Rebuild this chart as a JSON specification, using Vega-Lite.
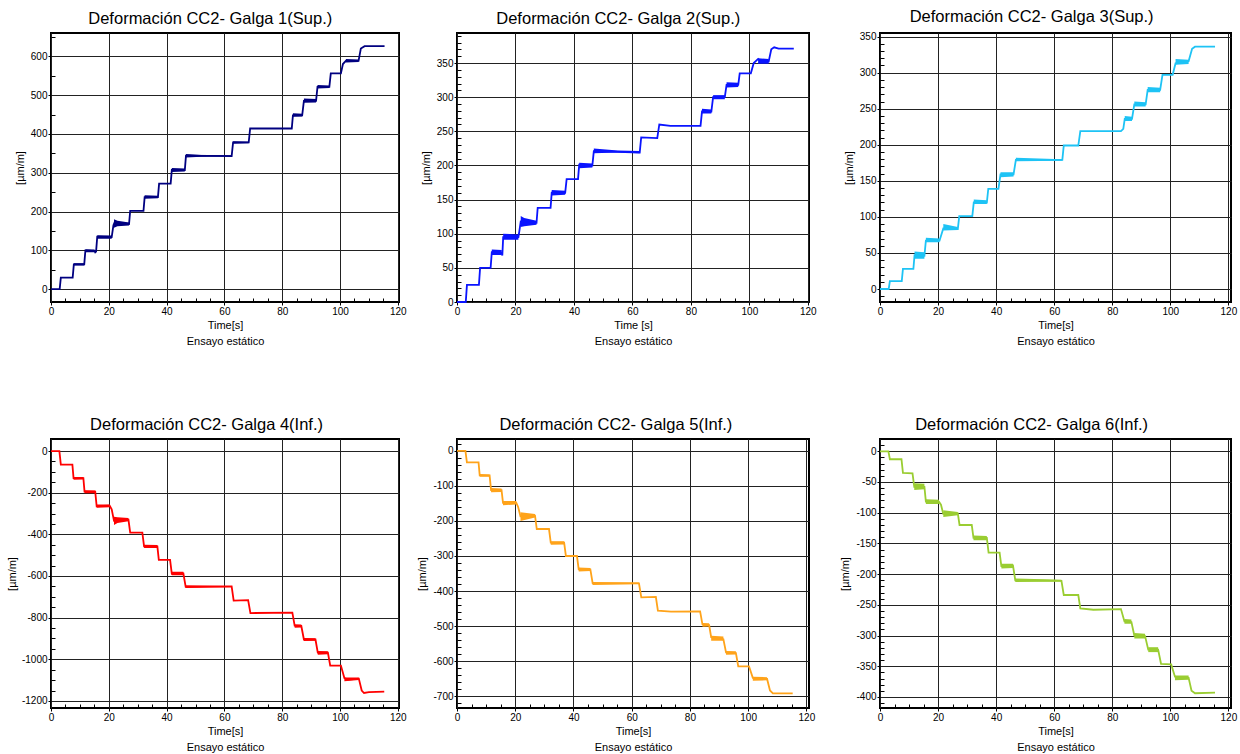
{
"$schema": "https://vega.github.io/schema/vega-lite/v6.json",
"padding": {"left": 5, "top": 8, "right": 0, "bottom": 0},
"background": "white",
"config": {
  "font": "Liberation Sans",
  "view": {"stroke": "#000", "strokeWidth": 2},
  "title": {"fontSize": 16.5, "fontWeight": "normal", "font": "Liberation Sans", "color": "#000", "offset": 6, "frame": "bounds", "anchor": "middle"},
  "axis": {"gridColor": "#222", "gridOpacity": 1, "gridWidth": 1, "tickColor": "#000", "tickSize": 3, "domain": false,
           "labelFont": "Liberation Sans", "labelFontSize": 10, "labelColor": "#000", "labelPadding": 1, "labelFlush": false, "labelOverlap": false,
           "titleFont": "Liberation Sans", "titleFontSize": 11, "titleFontWeight": "normal", "titleColor": "#000"}
},
"datasets": {
  "g1": [{"t":0,"v":0},{"t":3.0,"v":0},{"t":3.4,"v":30},{"t":7.5,"v":30},{"t":7.9,"v":64},{"t":11.5,"v":64},{"t":11.9,"v":100},{"t":15.1,"v":98},{"t":15.3,"v":95},{"t":15.6,"v":97},{"t":16.0,"v":135},{"t":21.0,"v":134},{"t":21.6,"v":165},{"t":22.0,"v":172},{"t":27.0,"v":168},{"t":27.4,"v":202},{"t":32.0,"v":202},{"t":32.4,"v":237},{"t":37.0,"v":237},{"t":37.4,"v":272},{"t":41.4,"v":272},{"t":41.8,"v":307},{"t":46.3,"v":307},{"t":46.7,"v":344},{"t":62.5,"v":343},{"t":63.0,"v":378},{"t":68.4,"v":378},{"t":68.9,"v":414},{"t":83.3,"v":414},{"t":83.7,"v":448},{"t":86.9,"v":448},{"t":87.5,"v":485},{"t":91.7,"v":485},{"t":92.2,"v":521},{"t":96.3,"v":521},{"t":96.8,"v":556},{"t":100.3,"v":556},{"t":101.0,"v":580},{"t":102.0,"v":588},{"t":106.4,"v":588},{"t":107.2,"v":620},{"t":108.5,"v":626},{"t":115.4,"v":626}],
  "b1": [{"k":1,"t":7.9,"lo":61,"hi":67},{"k":1,"t":11.5,"lo":61,"hi":67},{"k":2,"t":11.9,"lo":95,"hi":103},{"k":2,"t":15.1,"lo":95,"hi":102},{"k":3,"t":16.0,"lo":130,"hi":139},{"k":3,"t":21.0,"lo":130,"hi":138},{"k":4,"t":21.8,"lo":158,"hi":180},{"k":4,"t":23.0,"lo":162,"hi":176},{"k":4,"t":27.0,"lo":164,"hi":172},{"k":5,"t":32.4,"lo":233,"hi":242},{"k":5,"t":37.0,"lo":234,"hi":241},{"k":6,"t":41.8,"lo":302,"hi":312},{"k":6,"t":46.3,"lo":303,"hi":311},{"k":7,"t":46.7,"lo":339,"hi":348},{"k":7,"t":52,"lo":341,"hi":346},{"k":7,"t":62.5,"lo":342,"hi":345},{"k":8,"t":63.0,"lo":375,"hi":381},{"k":8,"t":68.4,"lo":376,"hi":380},{"k":9,"t":83.7,"lo":444,"hi":453},{"k":9,"t":86.9,"lo":445,"hi":452},{"k":10,"t":87.5,"lo":480,"hi":491},{"k":10,"t":91.7,"lo":481,"hi":490},{"k":11,"t":92.2,"lo":517,"hi":526},{"k":11,"t":96.3,"lo":518,"hi":525},{"k":12,"t":102.0,"lo":584,"hi":593},{"k":12,"t":106.4,"lo":585,"hi":592}],
  "g2": [{"t":0,"v":0},{"t":3.0,"v":0},{"t":3.4,"v":25},{"t":7.5,"v":25},{"t":7.9,"v":50},{"t":11.5,"v":50},{"t":11.9,"v":73},{"t":15.3,"v":72},{"t":15.5,"v":68},{"t":15.8,"v":95},{"t":21.0,"v":95},{"t":21.3,"v":103},{"t":21.8,"v":118},{"t":27.2,"v":116},{"t":27.6,"v":138},{"t":32.0,"v":138},{"t":32.4,"v":160},{"t":37.0,"v":160},{"t":37.5,"v":180},{"t":41.4,"v":180},{"t":41.8,"v":201},{"t":46.3,"v":200},{"t":46.8,"v":221},{"t":62.5,"v":219},{"t":63.0,"v":241},{"t":68.5,"v":240},{"t":69.2,"v":260},{"t":73,"v":258},{"t":83.3,"v":258},{"t":83.8,"v":279},{"t":87.0,"v":279},{"t":87.6,"v":300},{"t":91.6,"v":300},{"t":92.2,"v":318},{"t":96.2,"v":318},{"t":96.7,"v":335},{"t":100.5,"v":335},{"t":101.5,"v":350},{"t":103.0,"v":356},{"t":104.0,"v":352},{"t":106.6,"v":352},{"t":107.5,"v":370},{"t":108.5,"v":373},{"t":110,"v":371},{"t":115.2,"v":371}],
  "b2": [{"k":1,"t":11.9,"lo":69,"hi":77},{"k":1,"t":15.3,"lo":69,"hi":76},{"k":2,"t":15.8,"lo":91,"hi":100},{"k":2,"t":21.0,"lo":91,"hi":99},{"k":3,"t":21.8,"lo":110,"hi":126},{"k":3,"t":23.0,"lo":111,"hi":123},{"k":3,"t":27.2,"lo":113,"hi":119},{"k":4,"t":32.4,"lo":156,"hi":164},{"k":4,"t":37.0,"lo":157,"hi":163},{"k":5,"t":41.8,"lo":196,"hi":204},{"k":5,"t":46.3,"lo":197,"hi":203},{"k":6,"t":46.8,"lo":218,"hi":225},{"k":6,"t":55,"lo":219,"hi":222},{"k":6,"t":62.5,"lo":218,"hi":221},{"k":7,"t":83.8,"lo":276,"hi":283},{"k":7,"t":87.0,"lo":276,"hi":282},{"k":8,"t":87.6,"lo":297,"hi":303},{"k":8,"t":91.6,"lo":297,"hi":303},{"k":9,"t":92.2,"lo":314,"hi":322},{"k":9,"t":96.2,"lo":315,"hi":321},{"k":10,"t":103.0,"lo":349,"hi":357},{"k":10,"t":106.6,"lo":349,"hi":356}],
  "g3": [{"t":0,"v":0},{"t":3.0,"v":0},{"t":3.4,"v":11},{"t":7.5,"v":11},{"t":7.9,"v":28},{"t":11.5,"v":28},{"t":11.9,"v":47},{"t":15.3,"v":46},{"t":15.8,"v":67},{"t":20.5,"v":67},{"t":21.8,"v":84},{"t":26.8,"v":83},{"t":27.3,"v":101},{"t":31.8,"v":101},{"t":32.3,"v":120},{"t":36.8,"v":120},{"t":37.3,"v":139},{"t":40.8,"v":139},{"t":41.5,"v":159},{"t":46.0,"v":159},{"t":46.8,"v":179},{"t":62.8,"v":179},{"t":63.3,"v":199},{"t":68.3,"v":199},{"t":69.0,"v":219},{"t":83.0,"v":219},{"t":83.8,"v":222},{"t":84.3,"v":236},{"t":86.8,"v":236},{"t":87.6,"v":256},{"t":91.5,"v":256},{"t":92.2,"v":276},{"t":96.5,"v":276},{"t":97.3,"v":297},{"t":100.8,"v":297},{"t":101.8,"v":313},{"t":106.3,"v":316},{"t":107.5,"v":333},{"t":108.5,"v":336},{"t":115.4,"v":336}],
  "b3": [{"k":1,"t":11.9,"lo":42,"hi":52},{"k":1,"t":15.3,"lo":42,"hi":51},{"k":2,"t":15.8,"lo":65,"hi":71},{"k":2,"t":20.5,"lo":65,"hi":70},{"k":3,"t":21.8,"lo":81,"hi":90},{"k":3,"t":26.8,"lo":82,"hi":86},{"k":4,"t":32.3,"lo":118,"hi":124},{"k":4,"t":36.8,"lo":118,"hi":123},{"k":5,"t":41.5,"lo":155,"hi":162},{"k":5,"t":46.0,"lo":156,"hi":162},{"k":6,"t":46.8,"lo":177,"hi":182},{"k":6,"t":62.8,"lo":178,"hi":180},{"k":7,"t":84.3,"lo":233,"hi":240},{"k":7,"t":86.8,"lo":233,"hi":239},{"k":8,"t":87.6,"lo":253,"hi":260},{"k":8,"t":91.5,"lo":253,"hi":259},{"k":9,"t":92.2,"lo":273,"hi":280},{"k":9,"t":96.5,"lo":273,"hi":279},{"k":10,"t":101.8,"lo":311,"hi":319},{"k":10,"t":106.3,"lo":312,"hi":318}],
  "g4": [{"t":0,"v":0},{"t":2.9,"v":0},{"t":3.4,"v":-65},{"t":7.4,"v":-65},{"t":7.8,"v":-130},{"t":11.2,"v":-130},{"t":11.6,"v":-195},{"t":15.3,"v":-195},{"t":15.8,"v":-265},{"t":20.3,"v":-262},{"t":21.0,"v":-280},{"t":21.8,"v":-335},{"t":26.8,"v":-330},{"t":27.4,"v":-392},{"t":31.6,"v":-392},{"t":32.2,"v":-458},{"t":36.8,"v":-458},{"t":37.3,"v":-523},{"t":41.2,"v":-523},{"t":41.8,"v":-590},{"t":45.8,"v":-588},{"t":46.6,"v":-652},{"t":62.5,"v":-650},{"t":63.2,"v":-718},{"t":68.2,"v":-716},{"t":69.0,"v":-778},{"t":83.5,"v":-776},{"t":84.3,"v":-838},{"t":86.6,"v":-840},{"t":87.5,"v":-905},{"t":91.5,"v":-905},{"t":92.3,"v":-968},{"t":95.8,"v":-968},{"t":96.6,"v":-1030},{"t":100.3,"v":-1030},{"t":101.5,"v":-1090},{"t":102.8,"v":-1098},{"t":106.5,"v":-1093},{"t":107.5,"v":-1150},{"t":108.3,"v":-1162},{"t":110,"v":-1158},{"t":115.3,"v":-1155}],
  "b4": [{"k":1,"t":7.8,"lo":-138,"hi":-125},{"k":1,"t":11.2,"lo":-137,"hi":-125},{"k":2,"t":11.6,"lo":-203,"hi":-188},{"k":2,"t":15.3,"lo":-202,"hi":-189},{"k":3,"t":15.8,"lo":-272,"hi":-256},{"k":3,"t":20.3,"lo":-270,"hi":-256},{"k":4,"t":21.8,"lo":-355,"hi":-315},{"k":4,"t":23.0,"lo":-345,"hi":-318},{"k":4,"t":26.8,"lo":-337,"hi":-322},{"k":5,"t":32.2,"lo":-466,"hi":-450},{"k":5,"t":36.8,"lo":-465,"hi":-451},{"k":6,"t":41.8,"lo":-597,"hi":-580},{"k":6,"t":45.8,"lo":-596,"hi":-580},{"k":7,"t":46.6,"lo":-658,"hi":-645},{"k":7,"t":62.5,"lo":-653,"hi":-648},{"k":8,"t":84.3,"lo":-848,"hi":-832},{"k":8,"t":86.6,"lo":-847,"hi":-833},{"k":9,"t":87.5,"lo":-912,"hi":-898},{"k":9,"t":91.5,"lo":-911,"hi":-899},{"k":10,"t":92.3,"lo":-978,"hi":-960},{"k":10,"t":95.8,"lo":-976,"hi":-961},{"k":11,"t":101.5,"lo":-1105,"hi":-1088},{"k":11,"t":106.5,"lo":-1100,"hi":-1088}],
  "g5": [{"t":0,"v":0},{"t":2.9,"v":0},{"t":3.4,"v":-33},{"t":7.4,"v":-33},{"t":7.8,"v":-70},{"t":11.2,"v":-70},{"t":11.7,"v":-112},{"t":15.3,"v":-112},{"t":15.8,"v":-148},{"t":20.3,"v":-147},{"t":21.0,"v":-160},{"t":21.8,"v":-187},{"t":26.8,"v":-185},{"t":27.4,"v":-223},{"t":31.6,"v":-223},{"t":32.2,"v":-262},{"t":36.8,"v":-262},{"t":37.4,"v":-300},{"t":41.2,"v":-300},{"t":41.8,"v":-338},{"t":45.8,"v":-338},{"t":46.6,"v":-378},{"t":62.5,"v":-378},{"t":63.3,"v":-418},{"t":68.3,"v":-417},{"t":69.0,"v":-456},{"t":73.5,"v":-459},{"t":83.5,"v":-458},{"t":84.3,"v":-495},{"t":86.6,"v":-497},{"t":87.3,"v":-532},{"t":91.5,"v":-538},{"t":92.4,"v":-575},{"t":95.8,"v":-577},{"t":96.6,"v":-615},{"t":100.3,"v":-615},{"t":101.6,"v":-648},{"t":106.5,"v":-651},{"t":107.5,"v":-684},{"t":108.5,"v":-692},{"t":115.3,"v":-692}],
  "b5": [{"k":1,"t":7.8,"lo":-74,"hi":-66},{"k":1,"t":11.2,"lo":-74,"hi":-67},{"k":2,"t":11.7,"lo":-118,"hi":-106},{"k":2,"t":15.3,"lo":-117,"hi":-107},{"k":3,"t":15.8,"lo":-155,"hi":-143},{"k":3,"t":20.3,"lo":-153,"hi":-143},{"k":4,"t":21.8,"lo":-200,"hi":-175},{"k":4,"t":26.8,"lo":-190,"hi":-180},{"k":5,"t":32.2,"lo":-268,"hi":-258},{"k":5,"t":36.8,"lo":-267,"hi":-258},{"k":6,"t":41.8,"lo":-344,"hi":-333},{"k":6,"t":45.8,"lo":-343,"hi":-334},{"k":7,"t":46.6,"lo":-383,"hi":-374},{"k":7,"t":62.5,"lo":-380,"hi":-376},{"k":8,"t":84.3,"lo":-502,"hi":-491},{"k":8,"t":86.6,"lo":-501,"hi":-492},{"k":9,"t":87.3,"lo":-542,"hi":-528},{"k":9,"t":91.5,"lo":-542,"hi":-530},{"k":10,"t":92.4,"lo":-582,"hi":-571},{"k":10,"t":95.8,"lo":-581,"hi":-572},{"k":11,"t":101.6,"lo":-656,"hi":-645},{"k":11,"t":106.5,"lo":-655,"hi":-646}],
  "g6": [{"t":0,"v":0},{"t":2.9,"v":0},{"t":3.4,"v":-13},{"t":7.4,"v":-13},{"t":7.9,"v":-35},{"t":11.2,"v":-36},{"t":11.8,"v":-58},{"t":15.3,"v":-58},{"t":15.8,"v":-82},{"t":20.3,"v":-82},{"t":21.0,"v":-87},{"t":21.8,"v":-102},{"t":26.8,"v":-101},{"t":27.4,"v":-120},{"t":31.6,"v":-120},{"t":32.2,"v":-141},{"t":36.8,"v":-141},{"t":37.4,"v":-165},{"t":41.2,"v":-165},{"t":41.8,"v":-187},{"t":45.8,"v":-186},{"t":46.6,"v":-210},{"t":62.5,"v":-211},{"t":63.3,"v":-234},{"t":68.3,"v":-234},{"t":69.0,"v":-256},{"t":73.5,"v":-258},{"t":83.0,"v":-257},{"t":84.2,"v":-277},{"t":86.6,"v":-278},{"t":87.6,"v":-300},{"t":91.3,"v":-301},{"t":92.4,"v":-323},{"t":95.8,"v":-323},{"t":96.8,"v":-346},{"t":100.3,"v":-347},{"t":101.6,"v":-367},{"t":106.3,"v":-369},{"t":107.3,"v":-390},{"t":108.5,"v":-394},{"t":115.4,"v":-393}],
  "b6": [{"k":1,"t":11.8,"lo":-63,"hi":-52},{"k":1,"t":15.3,"lo":-62,"hi":-53},{"k":2,"t":15.8,"lo":-86,"hi":-78},{"k":2,"t":20.3,"lo":-86,"hi":-79},{"k":3,"t":21.8,"lo":-107,"hi":-96},{"k":3,"t":26.8,"lo":-104,"hi":-99},{"k":4,"t":32.2,"lo":-145,"hi":-137},{"k":4,"t":36.8,"lo":-145,"hi":-138},{"k":5,"t":41.8,"lo":-191,"hi":-183},{"k":5,"t":45.8,"lo":-190,"hi":-183},{"k":6,"t":46.6,"lo":-213,"hi":-207},{"k":6,"t":62.5,"lo":-212,"hi":-209},{"k":7,"t":84.2,"lo":-281,"hi":-273},{"k":7,"t":86.6,"lo":-281,"hi":-274},{"k":8,"t":87.6,"lo":-305,"hi":-296},{"k":8,"t":91.3,"lo":-305,"hi":-297},{"k":9,"t":92.4,"lo":-327,"hi":-319},{"k":9,"t":95.8,"lo":-327,"hi":-319},{"k":10,"t":101.6,"lo":-373,"hi":-365},{"k":10,"t":106.3,"lo":-372,"hi":-365}]
},
"columns": 3,
"spacing": {"row": 68, "column": 7},
"concat": [
  {"width": 348, "height": 269, "title": "Deformación CC2- Galga 1(Sup.)",
   "layer": [
    {"data": {"name": "b1"}, "mark": {"type": "area", "color": "#000080", "opacity": 1},
     "encoding": {
      "x": {"field": "t", "type": "quantitative", "scale": {"domain": [0, 120.4], "nice": false}, "axis": {"orient": "bottom", "values": [0,20,40,60,80,100,120], "grid": true, "title": ["Time[s]", "Ensayo estático"], "titlePadding": 3, "titleLineHeight": 16}},
      "y": {"field": "lo", "type": "quantitative", "scale": {"domain": [-33, 660], "nice": false, "zero": false}, "axis": {"orient": "left", "values": [0,100,200,300,400,500,600], "grid": true, "title": "[µm/m]", "titlePadding": 5, "labelExpr": "datum.value + ''"}},
      "y2": {"field": "hi"}, "detail": {"field": "k"}}},
    {"data": {"name": "g1"}, "mark": {"type": "line", "color": "#000080", "strokeWidth": 1.8},
     "encoding": {
      "x": {"field": "t", "type": "quantitative", "axis": {"orient": "bottom", "values": [5,10,15,25,30,35,45,50,55,65,70,75,85,90,95,105,110,115], "tickSize": -4, "labels": false, "labelPadding": 0, "grid": false, "title": null}},
      "y": {"field": "v", "type": "quantitative", "axis": {"orient": "left", "values": [50,150,250,350,450,550,650], "tickSize": -4, "labels": false, "labelPadding": 0, "grid": false, "title": null}}}}
   ],
   "resolve": {"axis": {"x": "independent", "y": "independent"}}},
  {"width": 352, "height": 269, "title": "Deformación CC2- Galga 2(Sup.)",
   "layer": [
    {"data": {"name": "b2"}, "mark": {"type": "area", "color": "#0A14FF", "opacity": 1},
     "encoding": {
      "x": {"field": "t", "type": "quantitative", "scale": {"domain": [0, 120.4], "nice": false}, "axis": {"orient": "bottom", "values": [0,20,40,60,80,100,120], "grid": true, "title": ["Time [s]", "Ensayo estático"], "titlePadding": 3, "titleLineHeight": 16}},
      "y": {"field": "lo", "type": "quantitative", "scale": {"domain": [0, 394], "nice": false, "zero": false}, "axis": {"orient": "left", "values": [0,50,100,150,200,250,300,350], "grid": true, "title": "[µm/m]", "titlePadding": 5, "labelExpr": "datum.value + ''"}},
      "y2": {"field": "hi"}, "detail": {"field": "k"}}},
    {"data": {"name": "g2"}, "mark": {"type": "line", "color": "#0A14FF", "strokeWidth": 1.8},
     "encoding": {
      "x": {"field": "t", "type": "quantitative", "axis": {"orient": "bottom", "values": [5,10,15,25,30,35,45,50,55,65,70,75,85,90,95,105,110,115], "tickSize": -4, "labels": false, "labelPadding": 0, "grid": false, "title": null}},
      "y": {"field": "v", "type": "quantitative", "axis": {"orient": "left", "values": [10,20,30,40,60,70,80,90,110,120,130,140,160,170,180,190,210,220,230,240,260,270,280,290,310,320,330,340,360,370,380,390], "tickSize": -4, "labels": false, "labelPadding": 0, "grid": false, "title": null}}}}
   ],
   "resolve": {"axis": {"x": "independent", "y": "independent"}}},
  {"width": 351, "height": 269, "title": "Deformación CC2- Galga 3(Sup.)",
   "layer": [
    {"data": {"name": "b3"}, "mark": {"type": "area", "color": "#1EC3F5", "opacity": 1},
     "encoding": {
      "x": {"field": "t", "type": "quantitative", "scale": {"domain": [0, 120.9], "nice": false}, "axis": {"orient": "bottom", "values": [0,20,40,60,80,100,120], "grid": true, "title": ["Time[s]", "Ensayo estático"], "titlePadding": 3, "titleLineHeight": 16}},
      "y": {"field": "lo", "type": "quantitative", "scale": {"domain": [-18, 355], "nice": false, "zero": false}, "axis": {"orient": "left", "values": [0,50,100,150,200,250,300,350], "grid": true, "title": "[µm/m]", "titlePadding": 5, "labelExpr": "datum.value + ''"}},
      "y2": {"field": "hi"}, "detail": {"field": "k"}}},
    {"data": {"name": "g3"}, "mark": {"type": "line", "color": "#1EC3F5", "strokeWidth": 1.8},
     "encoding": {
      "x": {"field": "t", "type": "quantitative", "axis": {"orient": "bottom", "values": [5,10,15,25,30,35,45,50,55,65,70,75,85,90,95,105,110,115], "tickSize": -4, "labels": false, "labelPadding": 0, "grid": false, "title": null}},
      "y": {"field": "v", "type": "quantitative", "axis": {"orient": "left", "values": [-10,10,20,30,40,60,70,80,90,110,120,130,140,160,170,180,190,210,220,230,240,260,270,280,290,310,320,330,340], "tickSize": -4, "labels": false, "labelPadding": 0, "grid": false, "title": "[µm/m]", "titleOpacity": 0, "titlePadding": 42}}}}
   ],
   "resolve": {"axis": {"x": "independent", "y": "independent"}}},
  {"width": 348, "height": 269, "title": "Deformación CC2- Galga 4(Inf.)",
   "layer": [
    {"data": {"name": "b4"}, "mark": {"type": "area", "color": "#FF0000", "opacity": 1},
     "encoding": {
      "x": {"field": "t", "type": "quantitative", "scale": {"domain": [0, 120.4], "nice": false}, "axis": {"orient": "bottom", "values": [0,20,40,60,80,100,120], "grid": true, "title": ["Time[s]", "Ensayo estático"], "titlePadding": 3, "titleLineHeight": 16}},
      "y": {"field": "lo", "type": "quantitative", "scale": {"domain": [-1234, 58], "nice": false, "zero": false}, "axis": {"orient": "left", "values": [0,-200,-400,-600,-800,-1000,-1200], "grid": true, "title": "[µm/m]", "titlePadding": 3.5, "labelExpr": "datum.value + ''"}},
      "y2": {"field": "hi"}, "detail": {"field": "k"}}},
    {"data": {"name": "g4"}, "mark": {"type": "line", "color": "#FF0000", "strokeWidth": 1.8},
     "encoding": {
      "x": {"field": "t", "type": "quantitative", "axis": {"orient": "bottom", "values": [5,10,15,25,30,35,45,50,55,65,70,75,85,90,95,105,110,115], "tickSize": -4, "labels": false, "labelPadding": 0, "grid": false, "title": null}},
      "y": {"field": "v", "type": "quantitative", "axis": {"orient": "left", "values": [-50,-100,-150,-250,-300,-350,-450,-500,-550,-650,-700,-750,-850,-900,-950,-1050,-1100,-1150], "tickSize": -4, "labels": false, "labelPadding": 0, "grid": false, "title": null}}}}
   ],
   "resolve": {"axis": {"x": "independent", "y": "independent"}}},
  {"width": 352, "height": 269, "title": "Deformación CC2- Galga 5(Inf.)",
   "layer": [
    {"data": {"name": "b5"}, "mark": {"type": "area", "color": "#FFA31A", "opacity": 1},
     "encoding": {
      "x": {"field": "t", "type": "quantitative", "scale": {"domain": [0, 120.9], "nice": false}, "axis": {"orient": "bottom", "values": [0,20,40,60,80,100,120], "grid": true, "title": ["Time[s]", "Ensayo estático"], "titlePadding": 3, "titleLineHeight": 16}},
      "y": {"field": "lo", "type": "quantitative", "scale": {"domain": [-734, 34], "nice": false, "zero": false}, "axis": {"orient": "left", "values": [0,-100,-200,-300,-400,-500,-600,-700], "grid": true, "title": "[µm/m]", "titlePadding": 5, "labelExpr": "datum.value + ''"}},
      "y2": {"field": "hi"}, "detail": {"field": "k"}}},
    {"data": {"name": "g5"}, "mark": {"type": "line", "color": "#FFA31A", "strokeWidth": 1.8},
     "encoding": {
      "x": {"field": "t", "type": "quantitative", "axis": {"orient": "bottom", "values": [5,10,15,25,30,35,45,50,55,65,70,75,85,90,95,105,110,115], "tickSize": -4, "labels": false, "labelPadding": 0, "grid": false, "title": null}},
      "y": {"field": "v", "type": "quantitative", "axis": {"orient": "left", "values": [20,-20,-40,-60,-80,-120,-140,-160,-180,-220,-240,-260,-280,-320,-340,-360,-380,-420,-440,-460,-480,-520,-540,-560,-580,-620,-640,-660,-680,-720], "tickSize": -4, "labels": false, "labelPadding": 0, "grid": false, "title": null}}}}
   ],
   "resolve": {"axis": {"x": "independent", "y": "independent"}}},
  {"width": 351, "height": 269, "title": "Deformación CC2- Galga 6(Inf.)",
   "layer": [
    {"data": {"name": "b6"}, "mark": {"type": "area", "color": "#9ACD32", "opacity": 1},
     "encoding": {
      "x": {"field": "t", "type": "quantitative", "scale": {"domain": [0, 120.9], "nice": false}, "axis": {"orient": "bottom", "values": [0,20,40,60,80,100,120], "grid": true, "title": ["Time[s]", "Ensayo estático"], "titlePadding": 3, "titleLineHeight": 16}},
      "y": {"field": "lo", "type": "quantitative", "scale": {"domain": [-418, 20], "nice": false, "zero": false}, "axis": {"orient": "left", "values": [0,-50,-100,-150,-200,-250,-300,-350,-400], "grid": true, "title": "[µm/m]", "titlePadding": 5, "labelExpr": "datum.value + ''"}},
      "y2": {"field": "hi"}, "detail": {"field": "k"}}},
    {"data": {"name": "g6"}, "mark": {"type": "line", "color": "#9ACD32", "strokeWidth": 1.8},
     "encoding": {
      "x": {"field": "t", "type": "quantitative", "axis": {"orient": "bottom", "values": [5,10,15,25,30,35,45,50,55,65,70,75,85,90,95,105,110,115], "tickSize": -4, "labels": false, "labelPadding": 0, "grid": false, "title": null}},
      "y": {"field": "v", "type": "quantitative", "axis": {"orient": "left", "values": [10,-10,-20,-30,-40,-60,-70,-80,-90,-110,-120,-130,-140,-160,-170,-180,-190,-210,-220,-230,-240,-260,-270,-280,-290,-310,-320,-330,-340,-360,-370,-380,-390,-410], "tickSize": -4, "labels": false, "labelPadding": 0, "grid": false, "title": "[µm/m]", "titleOpacity": 0, "titlePadding": 42}}}}
   ],
   "resolve": {"axis": {"x": "independent", "y": "independent"}}}
]
}
